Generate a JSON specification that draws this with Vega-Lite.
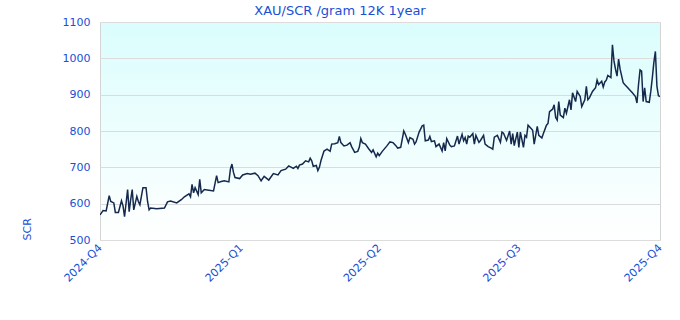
{
  "$schema": "https://vega.github.io/schema/vega-lite/v6.json",
  "width": 560,
  "height": 218,
  "autosize": {"type": "none"},
  "padding": {"left": 100, "top": 22, "right": 20, "bottom": 80},
  "background": "#ffffff",
  "title": {
    "text": "XAU/SCR /gram 12K 1year",
    "font": "DejaVu Sans",
    "fontSize": 13,
    "fontWeight": "normal",
    "color": "#1a4fd6",
    "anchor": "middle",
    "dx": -40,
    "dy": 6,
    "offset": 4
  },
  "config": {
    "view": {
      "fill": {
        "gradient": "linear",
        "x1": 0, "y1": 0, "x2": 0, "y2": 1,
        "stops": [
          {"offset": 0, "color": "#dbfdfd"},
          {"offset": 1, "color": "#ffffff"}
        ]
      },
      "stroke": "#d4d4d4"
    },
    "axis": {
      "labelFont": "DejaVu Sans",
      "labelFontSize": 11,
      "labelColor": "#1a4fd6",
      "titleFont": "DejaVu Sans",
      "titleFontSize": 11,
      "titleFontWeight": "normal",
      "titleColor": "#1a4fd6",
      "gridColor": "#dcdcdc",
      "domain": false,
      "ticks": false
    }
  },
  "data": {
    "values": [
      {"date": "2024-10-01", "price": 569},
      {"date": "2024-10-03", "price": 581},
      {"date": "2024-10-05", "price": 580},
      {"date": "2024-10-07", "price": 622},
      {"date": "2024-10-08", "price": 606},
      {"date": "2024-10-10", "price": 602},
      {"date": "2024-10-11", "price": 576},
      {"date": "2024-10-13", "price": 576},
      {"date": "2024-10-15", "price": 608},
      {"date": "2024-10-16", "price": 594},
      {"date": "2024-10-17", "price": 564},
      {"date": "2024-10-19", "price": 639},
      {"date": "2024-10-20", "price": 578},
      {"date": "2024-10-21", "price": 611},
      {"date": "2024-10-22", "price": 639},
      {"date": "2024-10-23", "price": 583},
      {"date": "2024-10-25", "price": 620},
      {"date": "2024-10-26", "price": 606},
      {"date": "2024-10-27", "price": 597},
      {"date": "2024-10-29", "price": 644},
      {"date": "2024-10-31", "price": 644},
      {"date": "2024-11-01", "price": 606},
      {"date": "2024-11-02", "price": 583},
      {"date": "2024-11-03", "price": 588},
      {"date": "2024-11-07", "price": 586},
      {"date": "2024-11-12", "price": 588},
      {"date": "2024-11-14", "price": 605},
      {"date": "2024-11-16", "price": 607},
      {"date": "2024-11-20", "price": 602},
      {"date": "2024-11-23", "price": 611},
      {"date": "2024-11-25", "price": 619},
      {"date": "2024-11-28", "price": 627},
      {"date": "2024-11-29", "price": 619},
      {"date": "2024-11-30", "price": 653},
      {"date": "2024-12-01", "price": 630},
      {"date": "2024-12-02", "price": 644},
      {"date": "2024-12-04", "price": 625},
      {"date": "2024-12-05", "price": 667},
      {"date": "2024-12-06", "price": 630},
      {"date": "2024-12-08", "price": 639},
      {"date": "2024-12-11", "price": 637},
      {"date": "2024-12-14", "price": 635},
      {"date": "2024-12-16", "price": 677},
      {"date": "2024-12-17", "price": 658},
      {"date": "2024-12-19", "price": 661},
      {"date": "2024-12-21", "price": 663},
      {"date": "2024-12-24", "price": 660},
      {"date": "2024-12-25", "price": 695},
      {"date": "2024-12-26", "price": 709},
      {"date": "2024-12-27", "price": 686},
      {"date": "2024-12-28", "price": 672},
      {"date": "2024-12-31", "price": 669},
      {"date": "2025-01-02", "price": 679},
      {"date": "2025-01-05", "price": 683},
      {"date": "2025-01-07", "price": 681},
      {"date": "2025-01-10", "price": 684},
      {"date": "2025-01-12", "price": 677},
      {"date": "2025-01-14", "price": 663},
      {"date": "2025-01-16", "price": 675},
      {"date": "2025-01-19", "price": 665},
      {"date": "2025-01-22", "price": 683},
      {"date": "2025-01-25", "price": 679},
      {"date": "2025-01-27", "price": 691},
      {"date": "2025-01-30", "price": 695},
      {"date": "2025-02-01", "price": 704},
      {"date": "2025-02-04", "price": 697},
      {"date": "2025-02-06", "price": 703},
      {"date": "2025-02-07", "price": 697},
      {"date": "2025-02-08", "price": 706},
      {"date": "2025-02-10", "price": 709},
      {"date": "2025-02-12", "price": 718},
      {"date": "2025-02-14", "price": 715},
      {"date": "2025-02-15", "price": 725},
      {"date": "2025-02-16", "price": 718},
      {"date": "2025-02-17", "price": 703},
      {"date": "2025-02-19", "price": 705},
      {"date": "2025-02-20", "price": 691},
      {"date": "2025-02-21", "price": 700},
      {"date": "2025-02-22", "price": 718},
      {"date": "2025-02-24", "price": 745},
      {"date": "2025-02-26", "price": 750},
      {"date": "2025-02-28", "price": 744},
      {"date": "2025-03-01", "price": 764},
      {"date": "2025-03-03", "price": 765},
      {"date": "2025-03-05", "price": 768},
      {"date": "2025-03-06", "price": 785},
      {"date": "2025-03-07", "price": 768},
      {"date": "2025-03-09", "price": 759},
      {"date": "2025-03-11", "price": 761},
      {"date": "2025-03-13", "price": 768},
      {"date": "2025-03-14", "price": 757},
      {"date": "2025-03-16", "price": 741},
      {"date": "2025-03-18", "price": 744},
      {"date": "2025-03-19", "price": 755},
      {"date": "2025-03-20", "price": 779},
      {"date": "2025-03-21", "price": 768},
      {"date": "2025-03-23", "price": 764},
      {"date": "2025-03-25", "price": 752},
      {"date": "2025-03-27", "price": 741},
      {"date": "2025-03-28", "price": 748},
      {"date": "2025-03-30", "price": 729},
      {"date": "2025-03-31", "price": 739},
      {"date": "2025-04-01", "price": 732},
      {"date": "2025-04-03", "price": 744},
      {"date": "2025-04-06", "price": 759},
      {"date": "2025-04-08", "price": 770},
      {"date": "2025-04-10", "price": 768},
      {"date": "2025-04-12", "price": 759},
      {"date": "2025-04-13", "price": 753},
      {"date": "2025-04-15", "price": 755},
      {"date": "2025-04-17", "price": 800},
      {"date": "2025-04-18", "price": 791},
      {"date": "2025-04-20", "price": 768},
      {"date": "2025-04-21", "price": 782},
      {"date": "2025-04-23", "price": 777},
      {"date": "2025-04-24", "price": 764},
      {"date": "2025-04-25", "price": 770},
      {"date": "2025-04-27", "price": 797},
      {"date": "2025-04-29", "price": 814},
      {"date": "2025-04-30", "price": 816},
      {"date": "2025-05-01", "price": 773},
      {"date": "2025-05-03", "price": 775},
      {"date": "2025-05-04", "price": 785},
      {"date": "2025-05-05", "price": 771},
      {"date": "2025-05-07", "price": 773},
      {"date": "2025-05-08", "price": 757},
      {"date": "2025-05-10", "price": 764},
      {"date": "2025-05-12", "price": 745},
      {"date": "2025-05-13", "price": 768},
      {"date": "2025-05-14", "price": 745},
      {"date": "2025-05-15", "price": 779},
      {"date": "2025-05-17", "price": 761},
      {"date": "2025-05-18", "price": 757},
      {"date": "2025-05-20", "price": 759},
      {"date": "2025-05-22", "price": 786},
      {"date": "2025-05-23", "price": 764},
      {"date": "2025-05-25", "price": 791},
      {"date": "2025-05-26", "price": 773},
      {"date": "2025-05-27", "price": 782},
      {"date": "2025-05-28", "price": 764},
      {"date": "2025-05-29", "price": 786},
      {"date": "2025-05-30", "price": 783},
      {"date": "2025-06-01", "price": 793},
      {"date": "2025-06-02", "price": 764},
      {"date": "2025-06-03", "price": 788},
      {"date": "2025-06-05", "price": 769},
      {"date": "2025-06-06", "price": 774},
      {"date": "2025-06-08", "price": 788},
      {"date": "2025-06-09", "price": 764},
      {"date": "2025-06-11", "price": 757},
      {"date": "2025-06-13", "price": 753},
      {"date": "2025-06-14", "price": 750},
      {"date": "2025-06-15", "price": 783},
      {"date": "2025-06-17", "price": 788},
      {"date": "2025-06-19", "price": 769},
      {"date": "2025-06-20", "price": 797},
      {"date": "2025-06-21", "price": 794},
      {"date": "2025-06-23", "price": 774},
      {"date": "2025-06-25", "price": 800},
      {"date": "2025-06-26", "price": 764},
      {"date": "2025-06-27", "price": 793},
      {"date": "2025-06-28", "price": 760},
      {"date": "2025-06-30", "price": 797},
      {"date": "2025-07-01", "price": 755},
      {"date": "2025-07-02", "price": 797},
      {"date": "2025-07-04", "price": 755},
      {"date": "2025-07-05", "price": 788},
      {"date": "2025-07-06", "price": 783},
      {"date": "2025-07-07", "price": 816},
      {"date": "2025-07-09", "price": 807},
      {"date": "2025-07-10", "price": 802},
      {"date": "2025-07-11", "price": 764},
      {"date": "2025-07-13", "price": 813},
      {"date": "2025-07-14", "price": 788},
      {"date": "2025-07-16", "price": 781},
      {"date": "2025-07-17", "price": 793},
      {"date": "2025-07-19", "price": 816},
      {"date": "2025-07-20", "price": 821},
      {"date": "2025-07-21", "price": 853},
      {"date": "2025-07-23", "price": 860},
      {"date": "2025-07-24", "price": 872},
      {"date": "2025-07-25", "price": 837},
      {"date": "2025-07-26", "price": 830},
      {"date": "2025-07-27", "price": 881},
      {"date": "2025-07-28", "price": 844},
      {"date": "2025-07-30", "price": 837},
      {"date": "2025-07-31", "price": 863},
      {"date": "2025-08-01", "price": 849},
      {"date": "2025-08-03", "price": 886},
      {"date": "2025-08-04", "price": 858},
      {"date": "2025-08-05", "price": 905},
      {"date": "2025-08-07", "price": 881},
      {"date": "2025-08-08", "price": 909},
      {"date": "2025-08-10", "price": 895},
      {"date": "2025-08-11", "price": 867},
      {"date": "2025-08-13", "price": 886},
      {"date": "2025-08-14", "price": 923},
      {"date": "2025-08-15", "price": 886},
      {"date": "2025-08-16", "price": 891},
      {"date": "2025-08-18", "price": 909},
      {"date": "2025-08-20", "price": 919},
      {"date": "2025-08-21", "price": 940},
      {"date": "2025-08-22", "price": 928},
      {"date": "2025-08-24", "price": 937},
      {"date": "2025-08-25", "price": 921},
      {"date": "2025-08-26", "price": 935},
      {"date": "2025-08-27", "price": 940},
      {"date": "2025-08-28", "price": 953},
      {"date": "2025-08-30", "price": 947},
      {"date": "2025-08-31", "price": 1037},
      {"date": "2025-09-01", "price": 993},
      {"date": "2025-09-02", "price": 970},
      {"date": "2025-09-03", "price": 951},
      {"date": "2025-09-04", "price": 998},
      {"date": "2025-09-05", "price": 970},
      {"date": "2025-09-07", "price": 933},
      {"date": "2025-09-08", "price": 928},
      {"date": "2025-09-10", "price": 919},
      {"date": "2025-09-11", "price": 914},
      {"date": "2025-09-13", "price": 905},
      {"date": "2025-09-15", "price": 895},
      {"date": "2025-09-16", "price": 877},
      {"date": "2025-09-17", "price": 928},
      {"date": "2025-09-18", "price": 968},
      {"date": "2025-09-19", "price": 965},
      {"date": "2025-09-20", "price": 881},
      {"date": "2025-09-21", "price": 919},
      {"date": "2025-09-22", "price": 881},
      {"date": "2025-09-24", "price": 879},
      {"date": "2025-09-25", "price": 909},
      {"date": "2025-09-26", "price": 947},
      {"date": "2025-09-27", "price": 989},
      {"date": "2025-09-28", "price": 1019},
      {"date": "2025-09-29", "price": 923},
      {"date": "2025-09-30", "price": 897},
      {"date": "2025-10-01", "price": 895}
    ]
  },
  "mark": {"type": "line", "color": "#15294d", "strokeWidth": 1.5, "clip": true},
  "encoding": {
    "x": {
      "field": "date",
      "type": "temporal",
      "scale": {"domain": ["2024-10-01T00:00:00", "2025-10-01T00:00:00"]},
      "axis": {
        "title": null,
        "format": "%Y-Q%q",
        "values": ["2024-10-01T00:00:00", "2025-01-01T00:00:00", "2025-04-01T00:00:00", "2025-07-01T00:00:00", "2025-10-01T00:00:00"],
        "labelAngle": -45,
        "labelAlign": "right",
        "labelBaseline": "middle",
        "labelPadding": 6,
        "grid": false,
        "labelOverlap": false,
        "labelBound": false,
        "labelFlush": false
      }
    },
    "y": {
      "field": "price",
      "type": "quantitative",
      "scale": {"domain": [500, 1100], "nice": false, "zero": false},
      "axis": {
        "title": "SCR",
        "titleAnchor": "start",
        "titlePadding": 30,
        "format": "d",
        "values": [500, 600, 700, 800, 900, 1000, 1100],
        "labelPadding": 10,
        "grid": true
      }
    }
  }
}
